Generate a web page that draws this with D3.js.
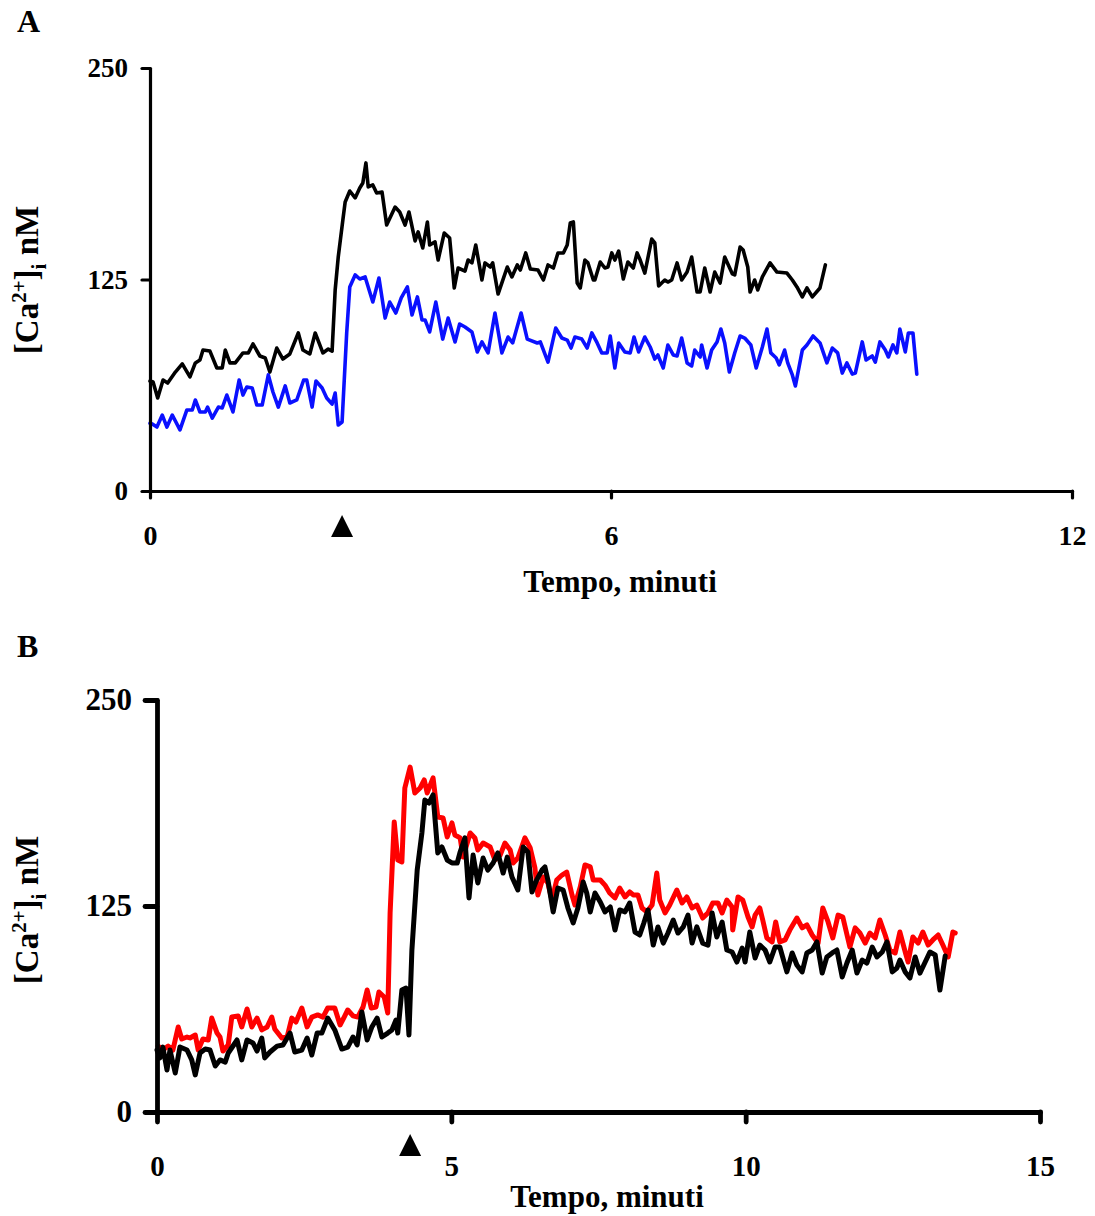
<!DOCTYPE html>
<html>
<head>
<meta charset="UTF-8" />
<title>Ca2+ traces</title>
<script src="https://d3js.org/d3.v7.min.js"></script>
<style>
  body { margin: 0; background: #fff; }
  text { font-family: "Liberation Serif", "Times New Roman", serif; font-weight: bold; fill: #000; }
</style>
</head>
<body>
<svg id="chart" width="1095" height="1216"></svg>
<script>
// ---- data: [minutes, nM] ----
// panel A, black trace
const blackA = [[0,65],[0.04,64.4],[0.10,55.0],[0.17,65.6],[0.23,63.8],[0.33,70.3],[0.42,75.1],[0.52,67.4],[0.59,75.7],[0.65,77.4],[0.69,83.3],[0.78,82.7],[0.87,72.7],[0.94,72.7],[0.98,83.3],[1.04,75.7],[1.11,75.7],[1.21,81.6],[1.28,81.6],[1.34,86.9],[1.43,79.8],[1.50,78.6],[1.56,70.3],[1.65,84.5],[1.73,78.0],[1.82,81.0],[1.93,93.4],[1.99,83.3],[2.08,81.0],[2.15,93.4],[2.25,81.6],[2.32,83.9],[2.37,82.7],[2.41,118.8],[2.45,138.3],[2.51,160.2],[2.54,170.8],[2.60,177.3],[2.67,173.2],[2.73,179.1],[2.77,182.0],[2.81,193.9],[2.84,179.7],[2.90,180.9],[2.95,176.1],[3.02,176.7],[3.08,157.2],[3.19,167.8],[3.25,164.9],[3.32,157.2],[3.37,164.9],[3.45,147.8],[3.49,153.1],[3.55,143.6],[3.61,159.0],[3.64,145.4],[3.71,147.2],[3.75,136.5],[3.83,152.5],[3.90,149.5],[3.96,120.0],[4.01,131.8],[4.10,130.0],[4.14,136.5],[4.19,134.8],[4.24,145.4],[4.32,124.7],[4.36,134.8],[4.43,132.4],[4.46,134.8],[4.53,116.4],[4.65,132.4],[4.71,126.5],[4.78,133.6],[4.82,130.6],[4.89,140.7],[4.95,131.2],[5.05,130.6],[5.12,124.7],[5.18,133.6],[5.25,131.8],[5.31,140.7],[5.38,140.7],[5.43,145.4],[5.47,158.4],[5.51,159.0],[5.56,122.9],[5.60,120.0],[5.66,136.5],[5.70,134.8],[5.77,124.7],[5.79,124.7],[5.86,135.3],[5.92,131.8],[5.96,132.4],[6.01,140.7],[6.05,136.5],[6.10,141.8],[6.16,125.3],[6.22,135.3],[6.29,131.8],[6.34,140.7],[6.38,136.5],[6.44,128.8],[6.53,148.9],[6.57,146.6],[6.62,121.2],[6.70,124.7],[6.74,123.5],[6.79,124.7],[6.86,134.8],[6.92,124.7],[6.99,129.4],[7.05,138.3],[7.12,117.6],[7.16,117.6],[7.22,131.8],[7.29,117.6],[7.35,129.4],[7.42,122.9],[7.48,138.3],[7.58,128.3],[7.61,127.7],[7.68,144.2],[7.72,142.4],[7.78,132.4],[7.81,117.6],[7.87,124.7],[7.91,118.8],[7.97,126.5],[8.07,134.8],[8.16,129.4],[8.29,128.8],[8.36,124.7],[8.42,120.6],[8.49,114.7],[8.55,120.0],[8.62,114.7],[8.72,120.0],[8.79,133.6]];

// panel A, blue trace
const blueA = [[0,40],[0.03,39.6],[0.09,37.8],[0.16,44.9],[0.22,37.8],[0.29,44.9],[0.39,36.1],[0.48,47.9],[0.55,47.9],[0.59,53.8],[0.65,46.7],[0.72,46.7],[0.75,49.6],[0.81,43.1],[0.89,49.6],[0.94,49.1],[1.00,56.7],[1.08,46.7],[1.16,65.6],[1.21,56.7],[1.26,61.5],[1.33,60.9],[1.39,50.8],[1.46,50.8],[1.54,68.6],[1.60,58.5],[1.67,49.6],[1.76,62.1],[1.82,52.0],[1.91,53.8],[2.00,65.6],[2.04,65.6],[2.11,49.6],[2.16,65.0],[2.24,60.9],[2.30,55.0],[2.37,51.4],[2.41,57.9],[2.45,39.0],[2.50,40.8],[2.56,93.4],[2.60,120.6],[2.67,127.7],[2.73,125.3],[2.80,126.5],[2.90,111.7],[2.98,125.9],[3.06,102.2],[3.12,111.7],[3.20,105.2],[3.27,114.1],[3.35,120.6],[3.41,104.0],[3.48,114.7],[3.54,101.1],[3.58,101.1],[3.64,94.0],[3.72,111.7],[3.81,89.8],[3.88,102.2],[3.97,88.1],[4.03,98.7],[4.10,96.9],[4.19,94.0],[4.26,82.2],[4.32,88.1],[4.40,81.6],[4.49,105.2],[4.58,81.6],[4.66,91.0],[4.72,87.5],[4.83,105.2],[4.91,89.8],[5.04,87.5],[5.08,88.1],[5.18,76.2],[5.28,96.3],[5.36,90.4],[5.43,89.2],[5.48,84.5],[5.53,91.0],[5.62,89.8],[5.69,84.5],[5.75,93.4],[5.82,87.5],[5.88,81.6],[5.95,81.6],[5.99,91.6],[6.05,72.7],[6.10,87.5],[6.18,82.2],[6.25,81.6],[6.30,91.0],[6.36,82.2],[6.44,91.0],[6.51,85.1],[6.57,78.0],[6.61,80.4],[6.68,72.7],[6.74,86.3],[6.81,80.4],[6.86,79.8],[6.92,90.4],[6.99,75.7],[7.05,73.9],[7.09,83.3],[7.16,79.2],[7.18,86.3],[7.25,72.7],[7.31,83.3],[7.38,88.1],[7.43,95.7],[7.48,87.5],[7.54,70.3],[7.61,81.6],[7.68,91.6],[7.74,90.4],[7.82,86.3],[7.89,72.7],[7.97,85.1],[8.03,95.7],[8.08,81.6],[8.15,78.6],[8.19,74.5],[8.26,83.3],[8.30,75.7],[8.36,68.6],[8.40,62.1],[8.49,83.3],[8.55,86.3],[8.63,91.6],[8.72,87.5],[8.81,75.7],[8.88,84.5],[8.95,81.6],[9.01,69.7],[9.07,75.7],[9.14,69.1],[9.18,69.7],[9.27,88.1],[9.32,77.4],[9.40,79.8],[9.44,76.2],[9.50,88.1],[9.57,83.3],[9.61,79.2],[9.67,86.3],[9.72,81.6],[9.76,95.7],[9.83,82.2],[9.87,93.4],[9.93,93.4],[9.98,69.1]];

// panel B, red trace
const redB = [[0.02,40.0],[0.10,37.6],[0.19,40.0],[0.27,37.6],[0.36,51.6],[0.42,44.3],[0.51,45.5],[0.56,44.9],[0.65,46.7],[0.70,37.6],[0.78,44.3],[0.87,43.7],[0.93,57.0],[1.02,47.9],[1.07,45.5],[1.12,37.0],[1.21,40.7],[1.27,57.6],[1.38,58.3],[1.44,51.6],[1.53,62.5],[1.61,51.6],[1.70,57.0],[1.78,49.8],[1.87,51.6],[1.95,57.6],[2.00,50.4],[2.12,44.9],[2.21,45.5],[2.29,57.0],[2.36,54.6],[2.46,63.1],[2.55,51.6],[2.63,57.6],[2.73,58.9],[2.82,57.6],[2.90,63.1],[3.02,63.1],[3.11,52.8],[3.18,57.6],[3.24,61.9],[3.33,58.3],[3.41,57.6],[3.50,63.7],[3.57,74.0],[3.64,63.1],[3.72,63.7],[3.77,72.8],[3.86,69.8],[3.92,60.1],[3.96,120.8],[4.03,176.0],[4.09,152.9],[4.16,151.7],[4.21,196.6],[4.30,209.3],[4.38,193.6],[4.47,196.6],[4.54,201.5],[4.59,193.6],[4.69,202.7],[4.77,179.0],[4.86,178.4],[4.93,166.9],[5.01,175.4],[5.06,168.1],[5.15,166.3],[5.20,154.7],[5.32,169.3],[5.40,166.3],[5.45,159.0],[5.54,163.2],[5.66,160.8],[5.74,152.9],[5.83,155.9],[5.91,163.2],[6.00,159.0],[6.05,151.1],[6.13,154.1],[6.25,166.3],[6.34,160.2],[6.42,148.1],[6.47,131.7],[6.56,142.6],[6.64,139.0],[6.71,128.6],[6.79,140.8],[6.88,143.8],[6.96,145.6],[7.05,131.7],[7.10,125.6],[7.19,136.5],[7.27,149.9],[7.36,148.7],[7.41,140.8],[7.53,140.8],[7.61,137.7],[7.69,132.9],[7.78,129.9],[7.86,135.9],[7.95,130.5],[8.03,133.5],[8.09,131.7],[8.17,131.7],[8.24,123.8],[8.32,121.4],[8.41,125.6],[8.49,145.0],[8.54,128.6],[8.63,120.8],[8.71,125.6],[8.83,134.7],[8.92,126.8],[9.00,130.5],[9.09,123.8],[9.17,125.6],[9.27,117.7],[9.36,120.8],[9.44,126.8],[9.53,126.8],[9.60,120.8],[9.68,128.6],[9.77,124.4],[9.78,110.4],[9.87,130.5],[9.95,128.6],[10.04,118.3],[10.11,112.3],[10.16,119.5],[10.24,123.8],[10.29,116.5],[10.36,105.6],[10.45,103.2],[10.51,115.3],[10.58,103.2],[10.67,104.4],[10.75,110.4],[10.87,117.7],[10.96,111.7],[11.04,113.5],[11.13,107.4],[11.23,102.5],[11.31,123.8],[11.40,115.3],[11.48,105.6],[11.57,119.5],[11.65,118.3],[11.77,100.1],[11.86,111.7],[11.94,108.6],[12.03,102.5],[12.11,108.6],[12.20,105.6],[12.28,116.5],[12.37,107.4],[12.45,98.3],[12.54,96.5],[12.62,109.2],[12.71,97.1],[12.76,91.0],[12.84,106.2],[12.93,102.5],[13.01,109.2],[13.10,101.3],[13.18,104.4],[13.27,107.4],[13.35,101.3],[13.44,94.1],[13.52,109.2],[13.56,108.6]];

// panel B, black trace
const blackB = [[0.00,37.6],[0.05,32.8],[0.10,39.4],[0.17,25.5],[0.22,37.6],[0.31,23.7],[0.39,39.4],[0.51,37.6],[0.59,31.6],[0.65,22.5],[0.73,35.8],[0.82,38.2],[0.90,37.6],[0.99,27.9],[1.07,31.6],[1.16,30.3],[1.21,35.8],[1.36,43.7],[1.44,31.6],[1.53,43.7],[1.63,41.9],[1.70,37.0],[1.78,44.9],[1.83,32.8],[1.92,36.4],[2.04,40.0],[2.14,40.7],[2.26,47.9],[2.34,36.4],[2.46,37.6],[2.55,44.9],[2.63,34.6],[2.72,47.9],[2.80,47.9],[2.90,57.0],[3.02,49.8],[3.14,38.2],[3.24,39.4],[3.33,45.5],[3.40,40.7],[3.48,60.7],[3.57,43.7],[3.65,51.6],[3.74,57.0],[3.82,45.5],[3.92,47.9],[3.99,49.8],[4.06,55.8],[4.09,47.9],[4.16,74.0],[4.23,75.2],[4.28,46.7],[4.33,98.3],[4.42,146.8],[4.50,169.3],[4.55,189.3],[4.62,187.5],[4.69,192.4],[4.77,157.2],[4.84,160.8],[4.93,152.9],[5.01,151.1],[5.10,151.1],[5.15,157.8],[5.23,166.3],[5.30,129.9],[5.37,155.9],[5.45,139.0],[5.54,154.1],[5.62,146.8],[5.71,151.1],[5.79,157.2],[5.88,145.0],[5.95,154.7],[6.03,142.6],[6.13,134.7],[6.22,160.8],[6.30,157.8],[6.37,133.5],[6.45,140.8],[6.54,146.8],[6.59,148.7],[6.64,140.8],[6.73,121.4],[6.81,135.9],[6.90,134.7],[6.98,123.8],[7.07,114.7],[7.15,123.8],[7.24,139.6],[7.30,132.9],[7.36,121.4],[7.44,132.9],[7.53,127.4],[7.61,121.4],[7.70,124.4],[7.78,110.4],[7.86,122.6],[7.95,121.4],[8.03,126.8],[8.12,109.2],[8.20,107.4],[8.27,114.7],[8.34,122.6],[8.43,101.3],[8.51,112.3],[8.60,102.5],[8.68,108.6],[8.77,116.5],[8.85,108.6],[8.94,112.3],[9.02,119.5],[9.09,102.5],[9.17,112.3],[9.27,102.5],[9.36,101.3],[9.43,120.8],[9.51,106.2],[9.60,115.3],[9.68,98.3],[9.77,97.1],[9.85,91.0],[9.94,99.5],[9.99,91.0],[10.07,109.2],[10.16,93.4],[10.24,101.3],[10.33,98.3],[10.41,91.0],[10.50,100.1],[10.58,100.1],[10.70,85.0],[10.79,96.5],[10.87,89.2],[10.96,85.0],[11.04,96.5],[11.13,98.3],[11.21,103.2],[11.30,84.3],[11.38,94.1],[11.47,96.5],[11.55,98.3],[11.64,81.9],[11.72,90.4],[11.81,98.3],[11.89,84.3],[11.98,92.2],[12.06,90.4],[12.15,100.1],[12.23,94.1],[12.32,97.1],[12.40,103.2],[12.49,85.0],[12.57,87.4],[12.62,92.2],[12.71,85.0],[12.79,81.3],[12.88,94.1],[12.96,84.3],[13.05,91.0],[13.13,97.1],[13.22,95.3],[13.30,74.0],[13.39,94.7]];

// ticks and stimulus markers
const yTicks = [0, 125, 250];
const xTicksA = [0, 6, 12];
const xTicksB = [0, 5, 10, 15];
const stimA = 2.5;   // triangle under axis, minutes
const stimB = 4.3;
const xTitle = "Tempo, minuti";

const svg = d3.select("#chart");

function panel(opt) {
  const x = d3.scaleLinear().domain(opt.xDomain).range(opt.xRange);
  const y = d3.scaleLinear().domain([0, 250]).range(opt.yRange);
  const g = svg.append("g");

  // series
  opt.series.forEach(s => {
    g.append("path")
      .attr("d", d3.line().x(d => x(d[0])).y(d => y(d[1]))(s.data))
      .attr("fill", "none")
      .attr("stroke", s.color)
      .attr("stroke-width", opt.lineW)
      .attr("stroke-linejoin", "round")
      .attr("stroke-linecap", "round");
  });

  // axes
  const yAxis = d3.axisLeft(y).tickValues(yTicks).tickSize(opt.yTick).tickSizeOuter(0).tickPadding(opt.yPad);
  const gy = g.append("g").attr("transform", `translate(${opt.xRange[0]},0)`).call(yAxis);
  const xAxis = d3.axisBottom(x).tickValues(opt.xTicks).tickSize(opt.xTick).tickSizeOuter(0).tickPadding(opt.xPad);
  const gx = g.append("g").attr("transform", `translate(0,${opt.yRange[0]})`).call(xAxis);
  [gx, gy].forEach(a => {
    a.selectAll("path, line").attr("stroke", "#000").attr("stroke-width", opt.axisW).attr("stroke-linecap", "round");
    a.selectAll("text").style("font-size", opt.tickFont + "px").attr("fill", "#000");
  });
  gy.selectAll("text").style("font-size", opt.yTickFont + "px");

  // stimulus triangle
  const tx = x(opt.stim);
  g.append("path")
    .attr("d", `M${tx},${opt.triTop}L${tx + 11},${opt.triTop + 22}L${tx - 11},${opt.triTop + 22}Z`)
    .attr("fill", "#000");

  // x title
  g.append("text").attr("x", opt.xTitlePos[0]).attr("y", opt.xTitlePos[1])
    .attr("text-anchor", "middle").style("font-size", "31px").text(xTitle);

  // y title
  const yt = g.append("text")
    .attr("transform", `translate(${opt.yTitlePos[0]},${opt.yTitlePos[1]}) rotate(-90)`)
    .attr("text-anchor", "middle").style("font-size", "33px");
  yt.append("tspan").text("[Ca");
  yt.append("tspan").attr("dy", -12).style("font-size", "21px").text("2+");
  yt.append("tspan").attr("dy", 12).text("]");
  yt.append("tspan").attr("dy", 8).style("font-size", "21px").text("i");
  yt.append("tspan").attr("dy", -8).text(" nM");

  // panel letter
  g.append("text").attr("x", opt.letterPos[0]).attr("y", opt.letterPos[1])
    .style("font-size", "32px").text(opt.letter);
}

panel({
  letter: "A", letterPos: [17, 32],
  xDomain: [0, 12], xRange: [150, 1072], yRange: [491, 68],
  xTicks: xTicksA, stim: stimA, triTop: 515,
  series: [{data: blackA, color: "#000000"}, {data: blueA, color: "#0a10ff"}],
  lineW: 3.6, axisW: 3.2, yTick: 8, yPad: 14, xTick: 7, xPad: 27, tickFont: 28, yTickFont: 27,
  xTitlePos: [620, 592], yTitlePos: [38, 280]
});

panel({
  letter: "B", letterPos: [17, 657],
  xDomain: [0, 15], xRange: [157, 1040], yRange: [1112, 700],
  xTicks: xTicksB, stim: stimB, triTop: 1134,
  series: [{data: redB, color: "#ff0000"}, {data: blackB, color: "#000000"}],
  lineW: 5, axisW: 4.8, yTick: 12, yPad: 13, xTick: 10, xPad: 33, tickFont: 29, yTickFont: 31,
  xTitlePos: [607, 1207], yTitlePos: [38, 910]
});
</script>
</body>
</html>
